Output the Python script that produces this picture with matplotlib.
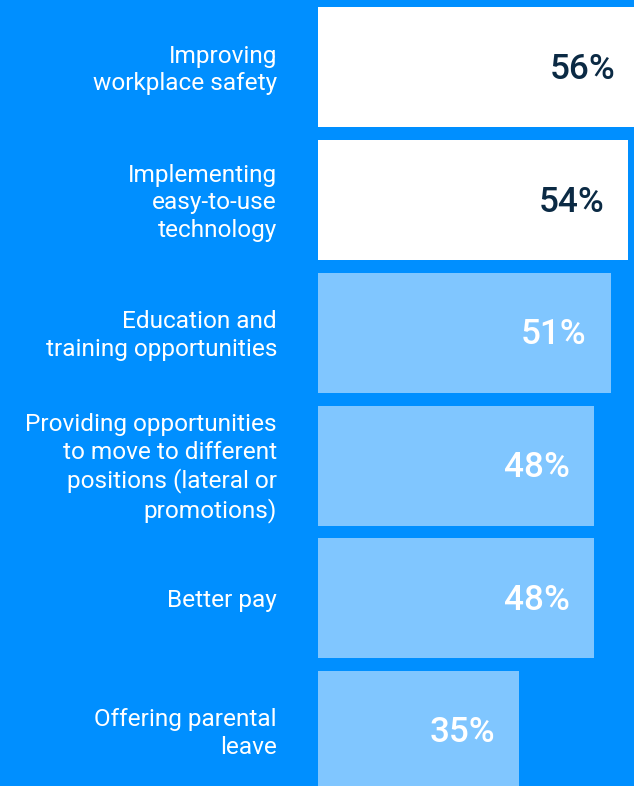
import matplotlib.pyplot as plt

categories = [
    "Improving\nworkplace safety",
    "Implementing\neasy-to-use\ntechnology",
    "Education and\ntraining opportunities",
    "Providing opportunities\nto move to different\npositions (lateral or\npromotions)",
    "Better pay",
    "Offering parental\nleave",
]
values = [56, 54, 51, 48, 48, 35]
highlight = [True, True, False, False, False, False]

BG = "#008FFF"
BAR_LIGHT = "#80C6FF"
DARK_TEXT = "#0B2A44"

W, H = 634, 786
fig = plt.figure(figsize=(W / 100, H / 100), dpi=100, facecolor=BG)

# bars live in the right part of the figure, labels on the left
ax = fig.add_axes([318 / W, 0, (W - 318) / W, 1])
ax.set_facecolor(BG)
pitch = 132.7
ax.set_ylim((H - 67.5) / pitch, -67.5 / pitch)
ax.set_xlim(0, (W - 318) / 5.74)
ax.axis("off")

ypos = list(range(len(values)))
colors = ["white" if h else BAR_LIGHT for h in highlight]
ax.barh(ypos, values, height=120 / pitch, color=colors, clip_on=True)

for y, v, h in zip(ypos, values, highlight):
    ax.annotate(f"{v}%", xy=(v, y), xytext=(-24, -2), textcoords="offset pixels",
                ha="right", va="center", fontsize=25.3, fontfamily="Roboto",
                fontweight="medium", color=DARK_TEXT if h else "white",
                annotation_clip=False)

# category labels, right aligned against the bars
for y, label in zip(ypos, categories):
    fy = 1 - (70 + pitch * y) / H
    fig.text(277 / W, fy, label, ha="right", va="center", ma="right",
             fontsize=17.6, fontfamily="Roboto", color="white", linespacing=1.245)

fig.savefig("out.png", dpi=100, facecolor=BG)
